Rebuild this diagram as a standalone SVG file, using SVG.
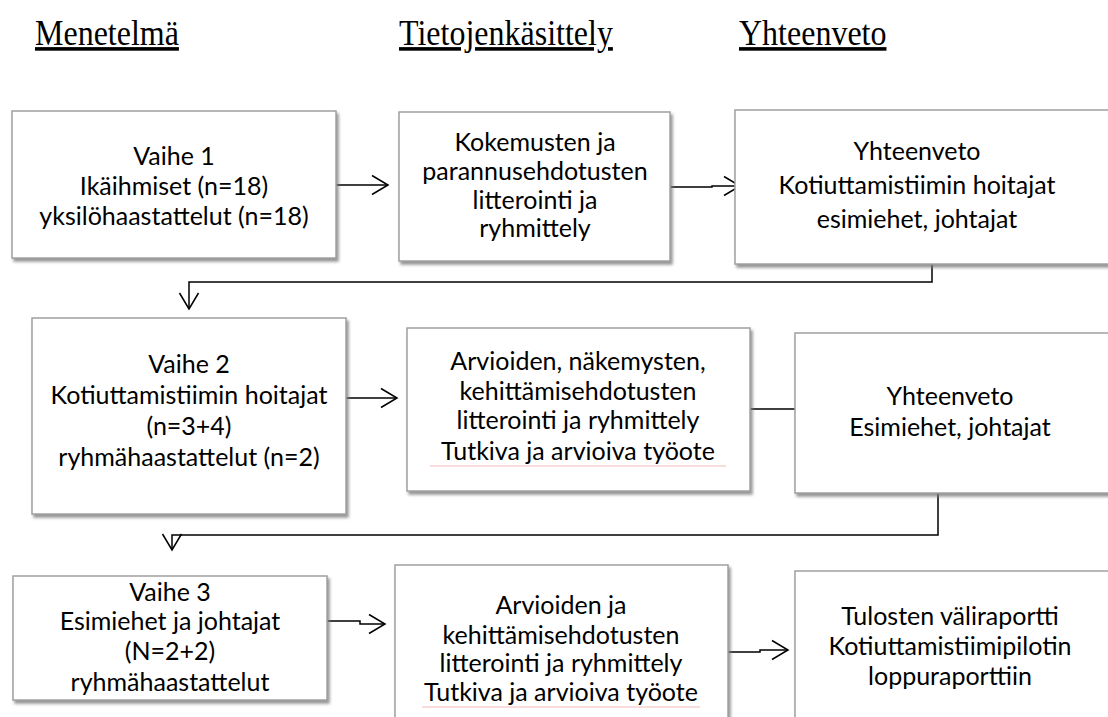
<svg xmlns="http://www.w3.org/2000/svg" width="1108" height="717" viewBox="0 0 1108 717">
<defs>
<filter id="sh" x="-5%" y="-5%" width="115%" height="120%">
<feDropShadow dx="2" dy="3" stdDeviation="1.5" flood-color="#7a7a7a" flood-opacity="0.8"/>
</filter>
<marker id="ah" markerWidth="20" markerHeight="22" refX="17" refY="11" orient="auto" markerUnits="userSpaceOnUse">
<path d="M1,1.5 L17,11 L1,20.5" fill="none" stroke="#000" stroke-width="1.5"/>
</marker>
<style>
.hd{font-family:"Liberation Serif","Times New Roman",serif;font-size:32px;fill:#000;text-decoration:underline;}
.bx{fill:#fff;stroke:#a0a0a0;stroke-width:1.5;filter:url(#sh);}
.t{font-family:Lato,"Carlito","Liberation Sans",sans-serif;font-size:25px;fill:#000;text-anchor:middle;}
.c{fill:none;stroke:#000;stroke-width:1.5;}
.sq{fill:none;stroke:#f2b8b8;stroke-width:1;}
</style>
</defs>
<g id="headers">
<text class="hd" transform="translate(35,45) scale(1,1.12)">Menetelmä</text>
<text class="hd" transform="translate(399,45) scale(1,1.12)">Tietojenkäsittely</text>
<text class="hd" transform="translate(739,45) scale(1,1.12)">Yhteenveto</text>
</g>
<g id="connectors">
<path class="c" d="M336,185 L388,185" marker-end="url(#ah)"/>
<path class="c" d="M670,187 L712,187 L712,186 L740,186" marker-end="url(#ah)"/>
<path class="c" d="M932,264 L932,282 L189,282 L189,309" marker-end="url(#ah)"/>
<path class="c" d="M346,398 L397,398" marker-end="url(#ah)"/>
<path class="c" d="M750,409 L795,409"/>
<path class="c" d="M938,493 L938,535 L172,535 L172,550" marker-end="url(#ah)"/>
<path class="c" d="M327,621 L360,621 L360,624 L385,624" marker-end="url(#ah)"/>
<path class="c" d="M728,652 L760,652 L760,650 L788,650" marker-end="url(#ah)"/>
</g>
<g id="vaihe1">
<rect class="bx" x="12" y="111" width="324" height="147"/>
<text class="t" x="174" y="165">Vaihe 1</text>
<text class="t" x="174" y="195">Ikäihmiset (n=18)</text>
<text class="t" x="174" y="225">yksilöhaastattelut (n=18)</text>
</g>
<g id="kasittely1">
<rect class="bx" x="399" y="112" width="271" height="149"/>
<text class="t" x="535" y="151">Kokemusten ja</text>
<text class="t" x="535" y="180">parannusehdotusten</text>
<text class="t" x="535" y="209">litterointi ja</text>
<text class="t" x="535" y="237">ryhmittely</text>
</g>
<g id="yhteenveto1">
<rect class="bx" x="735" y="110" width="385" height="154"/>
<text class="t" x="917" y="160">Yhteenveto</text>
<text class="t" x="917" y="194">Kotiuttamistiimin hoitajat</text>
<text class="t" x="917" y="228">esimiehet, johtajat</text>
</g>
<g id="vaihe2">
<rect class="bx" x="32" y="318" width="314" height="196"/>
<text class="t" x="189" y="373">Vaihe 2</text>
<text class="t" x="189" y="404">Kotiuttamistiimin hoitajat</text>
<text class="t" x="189" y="435">(n=3+4)</text>
<text class="t" x="189" y="466">ryhmähaastattelut (n=2)</text>
</g>
<g id="kasittely2">
<rect class="bx" x="407" y="328" width="343" height="163"/>
<text class="t" x="578" y="370">Arvioiden, näkemysten,</text>
<text class="t" x="578" y="400">kehittämisehdotusten</text>
<text class="t" x="578" y="429">litterointi ja ryhmittely</text>
<text class="t" x="578" y="460">Tutkiva ja arvioiva työote</text>
<path class="sq" d="M430,466 L726,466"/>
</g>
<g id="yhteenveto2">
<rect class="bx" x="795" y="333" width="325" height="160"/>
<text class="t" x="950" y="405">Yhteenveto</text>
<text class="t" x="950" y="436">Esimiehet, johtajat</text>
</g>
<g id="vaihe3">
<rect class="bx" x="13" y="576" width="314" height="124"/>
<text class="t" x="170" y="601">Vaihe 3</text>
<text class="t" x="170" y="630">Esimiehet ja johtajat</text>
<text class="t" x="170" y="660">(N=2+2)</text>
<text class="t" x="170" y="691">ryhmähaastattelut</text>
</g>
<g id="kasittely3">
<rect class="bx" x="395" y="565" width="333" height="170"/>
<text class="t" x="561" y="614">Arvioiden ja</text>
<text class="t" x="561" y="644">kehittämisehdotusten</text>
<text class="t" x="561" y="672">litterointi ja ryhmittely</text>
<text class="t" x="561" y="701">Tutkiva ja arvioiva työote</text>
<path class="sq" d="M422,707 L700,707"/>
</g>
<g id="tulokset">
<rect class="bx" x="795" y="571" width="325" height="170"/>
<text class="t" x="950" y="625">Tulosten väliraportti</text>
<text class="t" x="950" y="655">Kotiuttamistiimipilotin</text>
<text class="t" x="950" y="685">loppuraporttiin</text>
</g>
</svg>
